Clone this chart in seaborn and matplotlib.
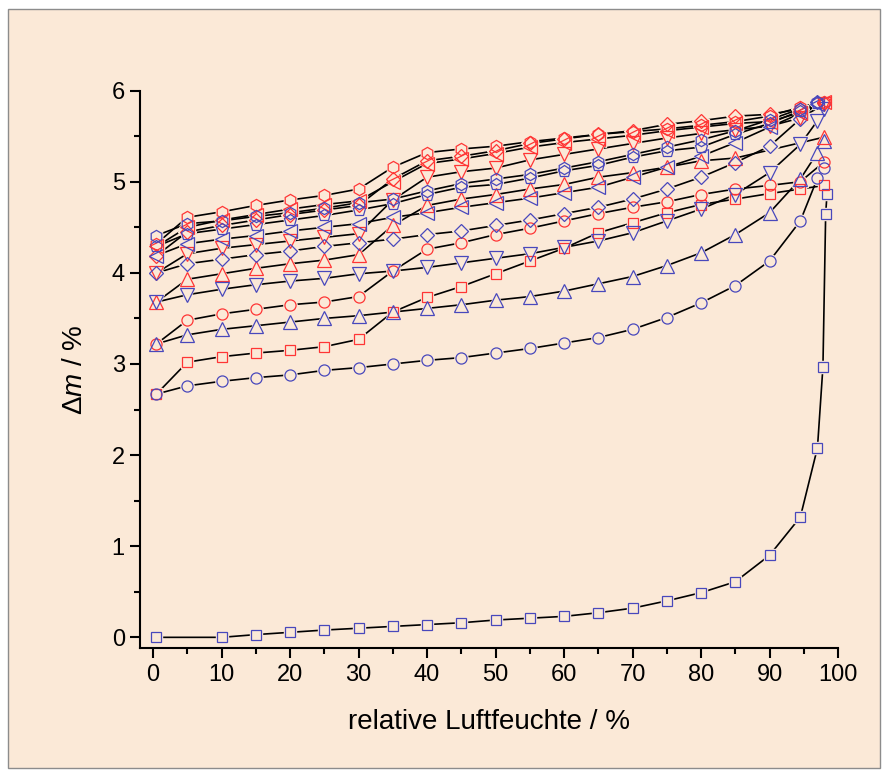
import numpy as np
import pandas as pd
import matplotlib.pyplot as plt
import seaborn as sns
from matplotlib.patches import Rectangle
from matplotlib.ticker import MultipleLocator

# relative humidity steps (sorption up, desorption down)
RH_UP = [0.5, 5, 10, 15, 20, 25, 30, 35, 40, 45, 50, 55, 60, 65, 70, 75, 80, 85, 90, 94.5, 97, 98]
RH_DOWN = [98, 94.5, 90, 85, 80, 75, 70, 65, 60, 55, 50, 45, 40, 35, 30, 25, 20, 15, 10, 5, 0.5]
RH_FIRST = [0.5, 10, 15, 20, 25, 30, 35, 40, 45, 50, 55, 60, 65, 70, 75, 80, 85, 90, 94.5, 97, 97.8, 98.2, 98.4]

# sorption cycles (blue)
b_square = [0, 0, 0.03, 0.055, 0.08, 0.10, 0.12, 0.14, 0.16, 0.19, 0.21, 0.23, 0.27, 0.32, 0.40, 0.49, 0.61, 0.90, 1.32, 2.08, 2.97, 4.65, 4.87]
b_circle = [2.67, 2.76, 2.81, 2.85, 2.88, 2.93, 2.96, 3.0, 3.04, 3.07, 3.12, 3.17, 3.23, 3.29, 3.38, 3.51, 3.67, 3.86, 4.13, 4.57, 5.04, 5.15]
b_up = [3.22, 3.32, 3.38, 3.42, 3.46, 3.5, 3.53, 3.57, 3.61, 3.65, 3.7, 3.74, 3.8, 3.88, 3.96, 4.08, 4.22, 4.42, 4.66, 5.03, 5.32, 5.45]
b_down = [3.68, 3.76, 3.82, 3.87, 3.91, 3.94, 3.99, 4.02, 4.06, 4.11, 4.16, 4.21, 4.28, 4.35, 4.44, 4.57, 4.7, 4.86, 5.1, 5.41, 5.67, 5.8]
b_diamond = [4.0, 4.1, 4.15, 4.2, 4.24, 4.29, 4.33, 4.37, 4.42, 4.46, 4.52, 4.58, 4.65, 4.72, 4.81, 4.92, 5.05, 5.21, 5.39, 5.69, 5.87, np.nan]
b_left = [4.19, 4.32, 4.37, 4.41, 4.46, 4.5, 4.54, 4.61, 4.66, 4.72, 4.77, 4.82, 4.88, 4.94, 5.05, 5.16, 5.28, 5.43, 5.6, 5.75, 5.85, np.nan]
b_pent = [4.29, 4.43, 4.48, 4.53, 4.58, 4.63, 4.69, 4.76, 4.86, 4.94, 4.97, 5.04, 5.12, 5.18, 5.27, 5.34, 5.38, 5.52, 5.64, 5.78, 5.86, np.nan]
b_hex = [4.41, 4.54, 4.57, 4.62, 4.66, 4.71, 4.77, 4.81, 4.9, 4.98, 5.03, 5.08, 5.15, 5.22, 5.3, 5.38, 5.46, 5.56, 5.68, 5.8, 5.87, np.nan]

# desorption cycles (red)
r_square = [4.96, 4.92, 4.87, 4.81, 4.75, 4.66, 4.55, 4.44, 4.27, 4.13, 3.99, 3.85, 3.73, 3.57, 3.27, 3.19, 3.15, 3.12, 3.08, 3.02, 2.67]
r_circle = [5.22, 5.0, 4.96, 4.92, 4.86, 4.78, 4.72, 4.65, 4.57, 4.49, 4.42, 4.33, 4.26, 4.02, 3.74, 3.68, 3.65, 3.6, 3.55, 3.48, 3.22]
r_up = [5.49, np.nan, np.nan, 5.26, 5.23, 5.16, 5.1, 5.05, 4.97, 4.92, 4.86, 4.81, 4.74, 4.52, 4.2, 4.14, 4.1, 4.05, 3.99, 3.93, 3.68]
r_down = [5.85, 5.7, 5.61, 5.57, 5.53, 5.48, 5.42, 5.36, 5.3, 5.24, 5.15, 5.11, 5.05, 4.8, 4.43, 4.39, 4.35, 4.31, 4.27, 4.21, 4.0]
r_diamond = [5.86, 5.8, 5.74, 5.72, 5.67, 5.63, 5.56, 5.52, 5.47, 5.42, 5.34, 5.28, 5.23, 5.03, 4.74, 4.69, 4.64, 4.58, 4.52, 4.45, 4.19]
r_left = [5.87, 5.76, 5.66, 5.64, 5.6, 5.56, 5.51, 5.47, 5.43, 5.38, 5.31, 5.25, 5.2, 5.0, 4.79, 4.75, 4.7, 4.64, 4.58, 4.5, 4.29]
r_hex = [5.88, 5.82, 5.72, 5.66, 5.62, 5.58, 5.55, 5.52, 5.48, 5.44, 5.39, 5.36, 5.32, 5.16, 4.92, 4.85, 4.8, 4.74, 4.67, 4.61, 4.32]

BG = '#fbe9d7'
BLUE = '#4848bc'
RED = '#ff3535'

# name, x, y, colour, marker, marker size (pt)
series = [
    ("b1", RH_FIRST, b_square, BLUE, 's', 7.0),
    ("r1", RH_DOWN, r_square, RED, 's', 7.0),
    ("b2", RH_UP, b_circle, BLUE, 'o', 8.0),
    ("r2", RH_DOWN, r_circle, RED, 'o', 8.0),
    ("b3", RH_UP, b_up, BLUE, '^', 9.5),
    ("r3", RH_DOWN, r_up, RED, '^', 9.5),
    ("b4", RH_UP, b_down, BLUE, 'v', 9.5),
    ("r4", RH_DOWN, r_down, RED, 'v', 9.5),
    ("b5", RH_UP, b_diamond, BLUE, 'D', 7.4),
    ("r5", RH_DOWN, r_diamond, RED, 'D', 7.4),
    ("b6", RH_UP, b_left, BLUE, '<', 9.5),
    ("r6", RH_DOWN, r_left, RED, '<', 9.5),
    ("b7", RH_UP, b_pent, BLUE, 'p', 8.8),
    ("r7", RH_DOWN, r_hex, RED, 'h', 8.8),
    ("b8", RH_UP, b_hex, BLUE, 'h', 8.8),
]

frames = []
for name, xs, ys, col, mk, ms in series:
    d = pd.DataFrame({"RH": xs, "dm": ys})
    d["series"] = name
    d["step"] = range(len(d))
    frames.append(d.dropna())
df = pd.concat(frames, ignore_index=True)

sns.set_theme(style="ticks")
plt.rcParams['font.family'] = ['Liberation Sans', 'DejaVu Sans']
plt.rcParams['mathtext.fontset'] = 'custom'
plt.rcParams['mathtext.rm'] = 'Liberation Sans'
plt.rcParams['mathtext.it'] = 'Liberation Sans:italic'

fig = plt.figure(figsize=(8.88, 7.76), dpi=100, facecolor='white')
fig.patches.append(Rectangle((8 / 888, 8 / 776), 872 / 888, 759 / 776,
                             transform=fig.transFigure, facecolor=BG,
                             edgecolor='#8c8c8c', lw=1.0, zorder=-5))
ax = fig.add_axes([0.1577, 0.1646, 0.786, 0.7186])
ax.set_facecolor('none')

# connecting lines
sns.lineplot(data=df, x="RH", y="dm", units="series", estimator=None, sort=False,
             color='black', lw=1.2, ax=ax, legend=False, zorder=2)

# background pads so lines stop short of markers, then hollow markers
for name, xs, ys, col, mk, ms in series:
    d = df[df["series"] == name]
    ax.plot(d["RH"], d["dm"], ls='none', marker=mk, ms=ms + 1.5, mfc=BG, mec=BG,
            mew=1.0, zorder=3)
for name, xs, ys, col, mk, ms in series:
    d = df[df["series"] == name]
    ax.plot(d["RH"], d["dm"], ls='none', marker=mk, ms=ms, mfc='none', mec=col,
            mew=0.9, zorder=4)

ax.set_xlim(-1.9, 100)
ax.set_ylim(-0.12, 6)
ax.xaxis.set_major_locator(MultipleLocator(10))
ax.xaxis.set_minor_locator(MultipleLocator(5))
ax.yaxis.set_major_locator(MultipleLocator(1))
ax.yaxis.set_minor_locator(MultipleLocator(0.5))
ax.tick_params(which='major', direction='out', length=7, width=1.5, labelsize=17,
               pad=4, colors='black')
ax.tick_params(which='minor', direction='out', length=4, width=1.5, colors='black')
for s in ['top', 'right']:
    ax.spines[s].set_visible(False)
for s in ['left', 'bottom']:
    ax.spines[s].set_linewidth(1.5)
    ax.spines[s].set_color('black')

ax.set_xlabel("relative Luftfeuchte / %", fontsize=20, color='black')
ax.set_ylabel(r"$\mathit{\Delta m}$ / %", fontsize=20, color='black')
ax.xaxis.label.set_va('center')
ax.yaxis.label.set_va('center')
ax.xaxis.set_label_coords(0.5, -0.132)
ax.yaxis.set_label_coords(-0.093, 0.5)

fig.savefig("out.png", dpi=100, facecolor='white')
